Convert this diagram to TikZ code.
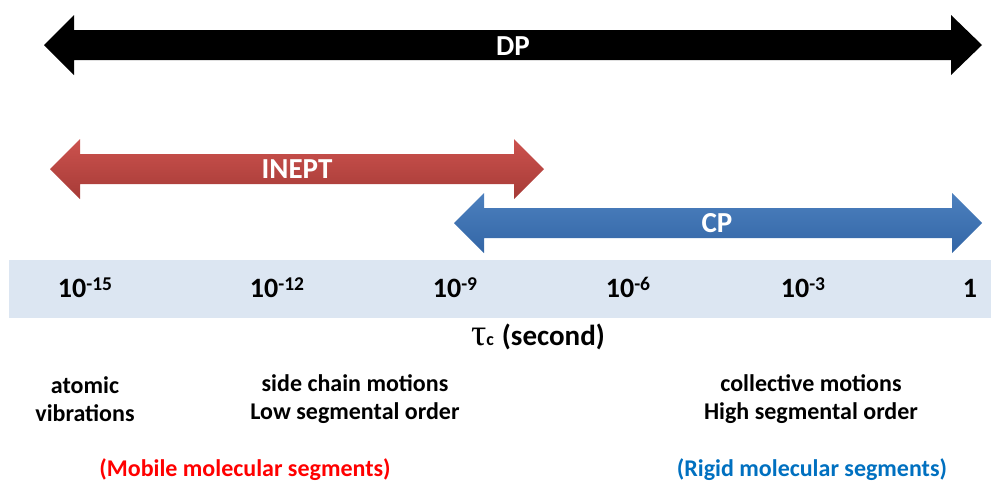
\documentclass[tikz,border=0pt]{standalone}
\usepackage{fontspec}
\setmainfont{Carlito}
\newfontfamily\greekfont{Liberation Serif}
\definecolor{bandblue}{HTML}{DCE6F2}
\definecolor{redtop}{HTML}{CC524E}
\definecolor{redbot}{HTML}{A63B37}
\definecolor{bluetop}{HTML}{4C80BE}
\definecolor{bluebot}{HTML}{3366A6}
\definecolor{mobilered}{HTML}{FF0000}
\definecolor{rigidblue}{HTML}{0070C0}
\newcommand{\supnum}[1]{\raisebox{7pt}{\fontsize{19.5}{20}\selectfont #1}}
\tikzset{
  arrowlabel/.style={text=white, font=\bfseries\fontsize{29}{32}\selectfont, inner sep=0pt},
  ticklabel/.style={font=\bfseries\fontsize{28}{32}\selectfont, inner sep=0pt, anchor=base},
  desclabel/.style={font=\bfseries\fontsize{24}{27.5}\selectfont, align=center, inner sep=0pt},
  catlabel/.style={font=\bfseries\fontsize{24}{28}\selectfont, inner sep=0pt}
}
\begin{document}
\begin{tikzpicture}[x=1pt,y=-1pt]
\useasboundingbox (0,0) rectangle (991,483);
% DP arrow
\fill[black] (44,45) -- (74,15) -- (74,30) -- (951,30) -- (951,15) -- (982,45)
  -- (951,75) -- (951,60) -- (74,60) -- (74,75) -- cycle;
\node[arrowlabel] (dp) at (513,46) {DP};
% INEPT arrow
\shade[top color=redtop, bottom color=redbot] (50,169) -- (80,139) -- (80,154) -- (514,154) -- (514,139) -- (544,169)
  -- (514,199) -- (514,184) -- (80,184) -- (80,199) -- cycle;
\node[arrowlabel] (inept) at (297,169) {INEPT};
% CP arrow
\shade[top color=bluetop, bottom color=bluebot] (454,223) -- (484,193) -- (484,208) -- (952,208) -- (952,193) -- (982,223)
  -- (952,253) -- (952,238) -- (484,238) -- (484,253) -- cycle;
\node[arrowlabel] (cp) at (717,223) {CP};
% band
\fill[bandblue] (9,260) rectangle (991,318);
\node[ticklabel] (t15) at (85,297) {10\supnum{-15}};
\node[ticklabel] (t12) at (277,297) {10\supnum{-12}};
\node[ticklabel] (t9) at (455,297) {10\supnum{-9}};
\node[ticklabel] (t6) at (628,297) {10\supnum{-6}};
\node[ticklabel] (t3) at (803,297) {10\supnum{-3}};
\node[ticklabel] (t0) at (970,297) {1};
% axis title
\node[inner sep=0pt, anchor=base] (tau) at (538,345) {{\greekfont\fontsize{38}{40}\selectfont τ}{\bfseries\fontsize{18}{20}\selectfont c}\hspace{8pt}{\bfseries\fontsize{29}{32}\selectfont (second)}};
% descriptions
\node[desclabel] (atomic) at (85,399) {atomic\\vibrations};
\node[desclabel] (side) at (355,399) {side chain motions\\Low segmental order};
\node[desclabel] (coll) at (811,399) {collective motions\\High segmental order};
\node[catlabel, text=mobilered] (mobile) at (245,470) {(Mobile molecular segments)};
\node[catlabel, text=rigidblue] (rigid) at (812,470) {(Rigid molecular segments)};
\end{tikzpicture}
\end{document}
